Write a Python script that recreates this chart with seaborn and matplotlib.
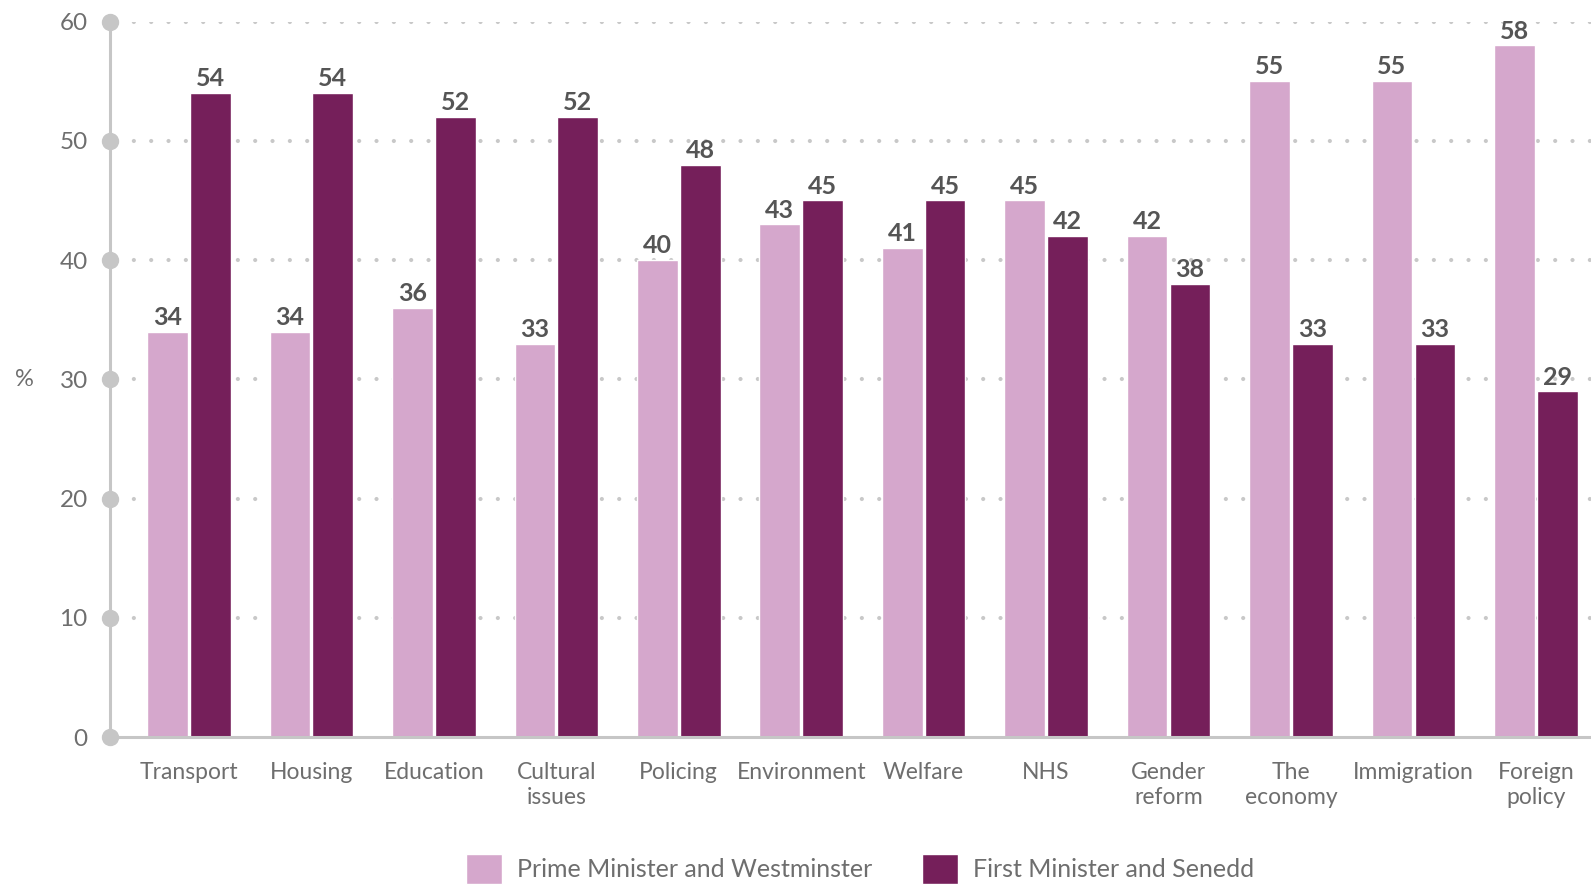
import matplotlib
matplotlib.use("Agg")
import matplotlib.pyplot as plt
import matplotlib.transforms as mtransforms
import pandas as pd
import seaborn as sns

categories = ["Transport", "Housing", "Education", "Cultural\nissues", "Policing",
              "Environment", "Welfare", "NHS", "Gender\nreform", "The\neconomy",
              "Immigration", "Foreign\npolicy"]
westminster = [34, 34, 36, 33, 40, 43, 41, 45, 42, 55, 55, 58]
senedd = [54, 54, 52, 52, 48, 45, 45, 42, 38, 33, 33, 29]
series_names = ["Prime Minister and Westminster", "First Minister and Senedd"]
yticks = [0, 10, 20, 30, 40, 50, 60]

PINK = "#D5A7CC"
PLUM = "#751F5A"
AXIS_GREY = "#C6C6C6"
TEXT_GREY = "#6E6E6E"
LABEL_GREY = "#555555"

sns.set_theme(style="white")
plt.rcParams["font.family"] = ["Lato", "DejaVu Sans"]

df = pd.DataFrame({
    "category": categories * 2,
    "value": westminster + senedd,
    "series": [series_names[0]] * len(categories) + [series_names[1]] * len(categories),
})

fig = plt.figure(figsize=(15.91, 8.85), dpi=100)
ax = fig.add_axes([110 / 1591, 147.7 / 885, 1 - 110 / 1591, (863.5 - 147.7) / 885])

sns.barplot(data=df, x="category", y="value", hue="series", order=categories,
            hue_order=series_names, palette=[PINK, PLUM], width=0.70, gap=0.05,
            saturation=1, ax=ax, legend=True, zorder=3)

for container in ax.containers:
    ax.bar_label(container, fmt="%d", padding=2, fontsize=18, fontweight="bold",
                 color=LABEL_GREY)

ax.set_ylim(0, 60)
ax.set_xlim(-0.645, 11.45)
ax.set_yticks(yticks)
ax.set_xlabel("")
ax.set_ylabel("")

# dotted horizontal guides
for y in yticks[1:]:
    ax.axhline(y, color="#C8C8C8", linewidth=3.0, linestyle=(2.6, (0.01, 4.15)),
               dash_capstyle="round", zorder=1)

for side in ["top", "right"]:
    ax.spines[side].set_visible(False)
for side in ["left", "bottom"]:
    ax.spines[side].set_color(AXIS_GREY)
    ax.spines[side].set_linewidth(2.2)
    ax.spines[side].set_zorder(4)

# round markers where the ticks meet the axis
trans = mtransforms.blended_transform_factory(ax.transAxes, ax.transData)
ax.plot([0] * len(yticks), yticks, "o", color=AXIS_GREY, markersize=11.5,
        transform=trans, clip_on=False, zorder=5)

ax.tick_params(axis="y", length=0, pad=16, labelsize=17.5, labelcolor=TEXT_GREY)
ax.tick_params(axis="x", length=0, pad=18, labelsize=16.5, labelcolor=TEXT_GREY)
for lbl in ax.get_xticklabels():
    lbl.set_linespacing(1.24)

fig.text(24 / 1591, 1 - 379 / 885, "%", ha="center", va="center",
         fontsize=17, color=TEXT_GREY)

handles, labels = ax.get_legend_handles_labels()
ax.get_legend().remove()
leg = fig.legend(handles, labels, loc="center", bbox_to_anchor=(860 / 1591, 16 / 885),
                 ncol=2, frameon=False, handlelength=1.45,
                 handleheight=1.45, handletextpad=0.6, columnspacing=2.0,
                 labelcolor=TEXT_GREY, prop={"size": 18})

fig.savefig("out.png", dpi=100)
